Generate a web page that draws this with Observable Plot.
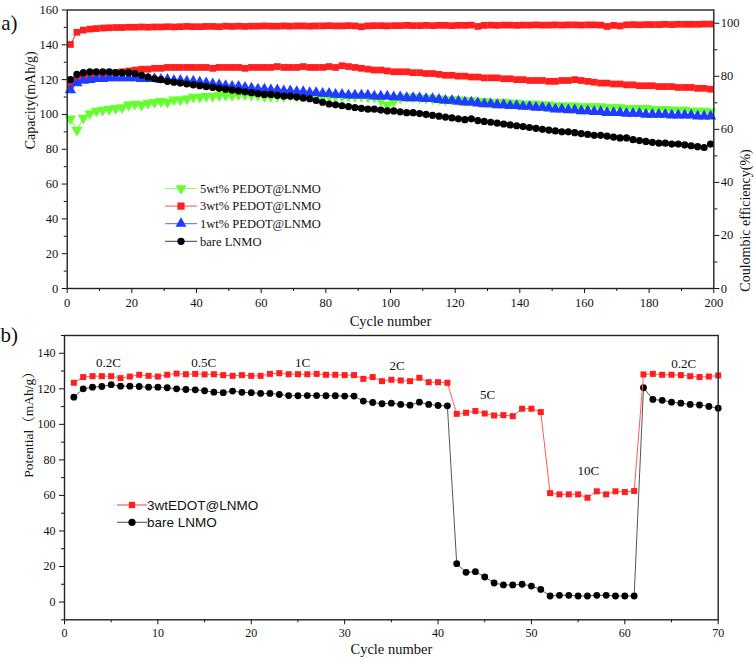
<!DOCTYPE html>
<html><head><meta charset="utf-8">
<script src="https://cdn.jsdelivr.net/npm/d3@7"></script>
<script src="https://cdn.jsdelivr.net/npm/@observablehq/plot@0.6"></script>
<style>
body{margin:0;background:#fff;}
#wrap{position:relative;width:756px;height:664px;overflow:hidden;background:#fff;}
#wrap > svg{position:absolute;left:0;}
</style></head><body><div id="wrap"></div><script>
// ---------- Panel a data (every second cycle: 1,3,...,199) ----------
const cyclesA = d3.range(1, 200, 2);
const ce3wt = [
 92.0,96.6,97.4,97.8,98.0,98.2,98.3,98.4,98.4,98.5,
 98.5,98.6,98.5,98.6,98.6,98.7,98.6,98.7,98.8,98.7,
 98.7,98.8,98.8,98.7,98.9,98.8,98.9,98.8,98.9,98.9,
 99.0,98.9,98.9,99.0,98.9,99.0,99.0,98.9,99.0,99.0,
 99.1,99.0,99.0,99.1,99.0,98.7,99.0,99.1,99.1,99.0,
 99.1,99.1,99.2,99.1,99.1,99.2,99.1,99.2,99.2,99.1,
 99.2,99.2,99.3,98.8,99.2,99.3,99.2,99.3,99.3,99.2,
 99.3,99.3,99.4,99.3,99.3,99.4,99.3,99.4,99.4,99.3,
 99.4,99.4,99.3,98.8,99.2,99.0,99.4,99.5,99.4,99.5,
 99.5,99.5,99.6,99.5,99.6,99.6,99.6,99.6,99.7,99.7];
const cap3wt = [
 117,119.5,121,121.5,122.5,123,123.5,124,124.5,125,
 125.5,126,126,126.5,126.5,127,127,127,127,127,
 127,127,126.5,127,127,127,127,126.5,127,127,
 127,127,127.5,127,127,127,127.5,127,127,127,
 127.5,127,128,127.5,127,126.5,126,125.5,125.5,125,
 124.5,124.5,124.5,124,124,123.5,123.5,123,122.5,122.5,
 122,122,121.5,121.5,121,121,121,120.5,120.5,120,
 120,119.5,119.5,119.5,119,119,119.5,119.5,120,119.5,
 119,118.5,118,118,117.5,117.5,117,117,116.5,116.5,
 116.5,116,116,116,115.5,115.5,115.5,115,115,114.5];
const cap1wt = [
 114,118,119.5,120,120.5,120.5,121,121,121,121,
 121,120.5,120.5,120.5,120,120,119.5,119.5,119,119,
 118.5,118,117.5,117,116.5,116,116,115.5,115,114.5,
 114.5,114,114,113.5,113.5,113,113,112.5,112.5,112,
 112,111.5,111.5,111,111,111,111,110.5,110.5,110.5,
 110,110,109.5,109.5,109.5,109,109,108.5,108,108,
 107.5,107,107,106.5,106,106,105.5,105.5,105,105,
 104.5,104.5,104,104,103.5,103,103,102.5,102.5,102,
 102,101.5,101.5,101,101,101,100.5,100.5,100.5,100,
 100,100,100,99.5,99.5,99.5,99.5,99,99,99];
const capBare = [
 120,123,124,124.5,124.5,124.5,124.5,124,124,124,
 123.5,122.5,121.5,120.5,120,119,118.5,118,117.5,117,
 116.5,116,115.5,115,114.5,114,113.5,113,112.5,112,
 111.5,111.5,111,110.5,110.5,110,109.5,109,108,107,
 106,105.5,105,104.5,104,103.5,103,103,102.5,102,
 102,101.5,101,101,100.5,100,99.5,99,98.5,98,
 97.5,97,97.5,96.5,96,95.5,95,94.5,94,93.5,
 93,92.5,92,91.5,91,90.5,90,90,89.5,89,
 88.5,88,88,87.5,87,86.5,86.5,85.5,85,84.5,
 84,83.5,83.5,83,83,82.5,82,81.5,81,83];
const cap5wt = [
 97.5,91,98,100.5,102,102.5,103,103.5,104,105.5,
 106,105.5,106.5,107,107.5,107,108.5,108.5,109,110,
 110,110.5,110.5,111,111,111,111.5,111.5,111,111,
 110.5,110.5,110.5,110.5,111,110.5,110.5,111,110.5,110.5,
 110.5,110.5,110.5,110.5,110.5,110.5,110,110,108,105.5,
 107.5,109.5,110,110,109.5,109.5,109,109,108.5,108.5,
 108.5,108,108,107.5,107.5,107,107,107,106.5,106.5,
 106,106,106,105.5,105.5,105,105,105,105,104.5,
 104.5,104.5,104.5,104,104,104,103.5,103.5,103.5,103.5,
 103,103,103,102.5,102.5,102.5,102,102,102,101.5];
const seriesNamesA = ["5wt% PEDOT@LNMO","3wt% PEDOT@LNMO","1wt% PEDOT@LNMO","bare LNMO"];

// ---------- Panel b data (cycles 1..70) ----------
const cyclesB = d3.range(1, 71);
const rate3wt = [
 123.4,126.6,127.1,127.1,127.1,126.0,126.9,127.9,127.3,126.9,
 127.9,128.6,128.2,128.4,128.1,128.2,127.7,127.3,127.7,127.3,
 127.3,128.4,128.8,128.2,128.2,128.2,128.4,127.9,127.9,127.7,
 127.7,125.6,126.6,124.3,125.1,124.7,124.3,126.2,123.7,123.7,
 123.4,105.9,106.5,107.5,106.1,105.0,105.2,104.6,108.8,108.8,
 106.9,61.3,60.6,60.6,60.6,58.7,62.3,60.6,62.3,61.9,
 62.5,128.1,128.4,127.9,127.9,127.7,127.1,126.6,126.9,127.5];
const rateBare = [
 115.3,120.0,120.9,121.3,122.3,121.5,121.5,121.3,120.9,120.9,
 120.6,120.0,119.6,119.4,118.9,118.1,117.8,118.7,118.0,117.8,
 117.4,117.4,116.8,116.2,116.1,116.2,116.2,116.1,116.1,115.9,
 115.9,113.1,112.3,111.6,111.9,111.2,110.8,112.5,111.2,110.6,
 110.4,21.6,16.7,17.1,14.1,10.7,9.6,9.6,10.0,9.0,
 7.1,3.4,3.8,3.8,3.4,3.4,3.8,3.8,3.4,3.4,
 3.4,120.6,114.0,113.5,112.5,111.9,111.2,110.9,110.1,109.1];
const rateLabels = ["0.2C","0.5C","1C","2C","5C","10C","0.2C"];
const rateLabelCycle = [4.7,14.9,25.5,35.6,45.3,56.1,66.3];
const rateLabelValue = [134.8,134.8,134.8,133,116.8,74,134.3];
const seriesNamesB = ["3wtEDOT@LNMO","bare LNMO"];

// ---------- styling ----------
const serif = "'Liberation Serif','Times New Roman','Noto Serif CJK SC','Noto Sans CJK SC',serif";
const C = {green:"#66ff2e", red:"#ff1f1f", blue:"#1f3cff", black:"#000000"};
const wrap = document.getElementById("wrap");

const toRows = (arr, cyc) => arr.map((v,i) => ({cycle: cyc[i], value: v}));
const ceScale = 160/105; // right axis 0..105 % mapped on capacity axis 0..160

const green = toRows(cap5wt, cyclesA), red = toRows(cap3wt, cyclesA), redCE = toRows(ce3wt, cyclesA),
      blue = toRows(cap1wt, cyclesA), black = toRows(capBare, cyclesA);

function series(data, color, symbol, r, extra={}) {
  return [
    Plot.line(data, {x:"cycle", y:"value", stroke: color, strokeWidth: 1, ...extra}),
    Plot.dot(data, {x:"cycle", y:"value", fill: color, stroke: "none", symbol, r, ...extra})
  ];
}

const plotA = Plot.plot({
  width: 756, height: 340,
  marginLeft: 66.7, marginRight: 42.7, marginTop: 9.5, marginBottom: 52,
  x: {domain: [0, 200]},
  y: {domain: [0, 160]},
  style: {fontFamily: serif, fontSize: "12.5px", color: "#111", background: "transparent", overflow: "visible"},
  marks: [
    Plot.axisX({ticks: d3.range(0, 201, 20), tickSize: 5, tickPadding: 5, label: null, fontSize: 12.5}),
    Plot.axisX({ticks: d3.range(10, 200, 20), tickSize: 3, tickFormat: () => "", label: null}),
    Plot.axisY({ticks: d3.range(0, 161, 20), tickSize: 5, tickPadding: 4, label: null, fontSize: 12.5}),
    Plot.axisY({ticks: d3.range(10, 160, 20), tickSize: 3, tickFormat: () => "", label: null}),
    Plot.axisY({anchor: "right", ticks: d3.range(0, 101, 20).map(v => v*ceScale), tickSize: 5, tickPadding: 2,
                tickFormat: d => Math.round(d/ceScale), label: null, fontSize: 12.5}),
    Plot.axisY({anchor: "right", ticks: d3.range(10, 100, 20).map(v => v*ceScale), tickSize: 3, tickFormat: () => "", label: null}),
    ...series(green, C.green, "triangle", 4.2, {rotate: 180}),
    ...series(red, C.red, "square", 3.8),
    ...series(redCE, C.red, "square", 3.8, {y: d => d.value*ceScale}),
    ...series(blue, C.blue, "triangle", 4.2),
    ...series(black, C.black, "circle", 3.6),
    Plot.frame({stroke: "#222", strokeWidth: 1.4}),
    Plot.text(["Cycle number"], {frameAnchor: "bottom", dy: 37, fontSize: 14.5, fill: "#111"}),
    Plot.text(["Capacity(mAh/g)"], {frameAnchor: "left", dx: -37, rotate: -90, fontSize: 14, fill: "#111"}),
    Plot.text(["Coulombic efficiency(%)"], {frameAnchor: "right", dx: 32, rotate: -90, fontSize: 14, fill: "#111"}),
    Plot.text(["a)"], {frameAnchor: "top-left", dx: -66, dy: 5, textAnchor: "start", fontSize: 21, fill: "#111"})
  ]
});
plotA.style.top = "0px";
wrap.appendChild(plotA);

const b3 = toRows(rate3wt, cyclesB), bBare = toRows(rateBare, cyclesB);
const labelRows = rateLabels.map((t,i) => ({t, cycle: rateLabelCycle[i], value: rateLabelValue[i]}));

const plotB = Plot.plot({
  width: 756, height: 352,
  marginLeft: 64, marginRight: 38.3, marginTop: 23, marginBottom: 44.7,
  x: {domain: [0, 70]},
  y: {domain: [-10, 150]},
  style: {fontFamily: serif, fontSize: "12px", color: "#111", background: "transparent", overflow: "visible"},
  marks: [
    Plot.axisX({ticks: d3.range(0, 71, 10), tickSize: 5, tickPadding: 4, label: null, fontSize: 12}),
    Plot.axisX({ticks: d3.range(5, 70, 10), tickSize: 3, tickFormat: () => "", label: null}),
    Plot.axisY({ticks: d3.range(0, 141, 20), tickSize: 5, tickPadding: 4, label: null, fontSize: 12}),
    Plot.axisY({ticks: d3.range(-10, 151, 20), tickSize: 3, tickFormat: () => "", label: null}),
    Plot.line(bBare, {x:"cycle", y:"value", stroke: "#555", strokeWidth: 1}),
    Plot.dot(bBare, {x:"cycle", y:"value", fill: "#000", r: 3.4, symbol: "circle"}),
    Plot.line(b3, {x:"cycle", y:"value", stroke: "#ff5c5c", strokeWidth: 1}),
    Plot.dot(b3, {x:"cycle", y:"value", fill: C.red, r: 3.4, symbol: "square"}),
    Plot.text(labelRows, {x:"cycle", y:"value", text:"t", fontSize: 13, fill: "#111"}),
    Plot.frame({stroke: "#222", strokeWidth: 1.4}),
    Plot.text(["Cycle number"], {frameAnchor: "bottom", dy: 34, fontSize: 14.5, fill: "#111"}),
    Plot.text(["Potential（mAh/g）"], {frameAnchor: "left", dx: -36, rotate: -90, fontSize: 13.5, fill: "#111"}),
    Plot.text(["b)"], {frameAnchor: "top-left", dx: -64, dy: -8, textAnchor: "start", fontSize: 21, fill: "#111"})
  ]
});
plotB.style.top = "312px";
wrap.appendChild(plotB);

// ---------- Legends (overlay svg) ----------
const leg = d3.select(wrap).append("svg")
  .attr("width", 756).attr("height", 664)
  .style("position", "absolute").style("top", "0px").style("left", "0px");

const legA = [
  {name: seriesNamesA[0], color: C.green, line: "#8cff66", sym: d3.symbolTriangle, rot: 180},
  {name: seriesNamesA[1], color: C.red, line: "#ff5050", sym: d3.symbolSquare, rot: 0},
  {name: seriesNamesA[2], color: C.blue, line: "#4d66ff", sym: d3.symbolTriangle, rot: 0},
  {name: seriesNamesA[3], color: C.black, line: "#33365a", sym: d3.symbolCircle, rot: 0}
];
const gA = leg.append("g").attr("transform", "translate(165,188.5)");
legA.forEach((e, i) => {
  const g = gA.append("g").attr("transform", `translate(0,${i*17.6})`);
  g.append("line").attr("x1", 0).attr("x2", 32).attr("stroke", e.line).attr("stroke-width", 1);
  g.append("path").attr("d", d3.symbol(e.sym, e.sym === d3.symbolCircle ? 42 : 52)())
    .attr("transform", `translate(16,0) rotate(${e.rot})`).attr("fill", e.color);
  g.append("text").attr("x", 35).attr("dy", "0.35em").text(e.name)
    .style("font-family", serif).style("font-size", "12.5px").attr("fill", "#111");
});

const legB = [
  {name: seriesNamesB[0], color: C.red, line: "#ff5c5c", sym: d3.symbolSquare},
  {name: seriesNamesB[1], color: "#000", line: "#666", sym: d3.symbolCircle}
];
const gB = leg.append("g").attr("transform", "translate(117,505)");
legB.forEach((e, i) => {
  const g = gB.append("g").attr("transform", `translate(0,${i*17.3})`);
  g.append("line").attr("x1", 0).attr("x2", 30).attr("stroke", e.line).attr("stroke-width", 1.2);
  g.append("path").attr("d", d3.symbol(e.sym, e.sym === d3.symbolCircle ? 42 : 40)())
    .attr("transform", "translate(15,0)").attr("fill", e.color);
  g.append("text").attr("x", 30).attr("dy", "0.36em").text(e.name)
    .style("font-family", "'Liberation Sans',Arial,sans-serif").style("font-size", "13.5px").attr("fill", "#111");
});
</script></body></html>
